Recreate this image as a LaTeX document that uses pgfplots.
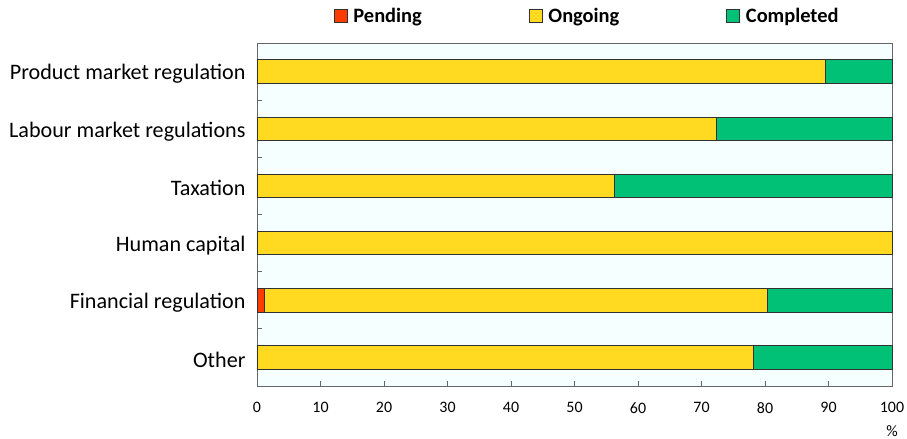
\documentclass[border=0pt]{standalone}
\usepackage{pgfplots}
\pgfplotsset{compat=1.18}
\usepackage{fontspec}
\setmainfont{Carlito}
\definecolor{pend}{RGB}{255,60,0}
\definecolor{ongo}{RGB}{255,218,32}
\definecolor{comp}{RGB}{0,193,118}
\definecolor{bgc}{RGB}{245,255,255}
\definecolor{edge}{RGB}{50,50,50}
\begin{document}
\begin{tikzpicture}
\useasboundingbox (-257bp,-53bp) rectangle (650bp,386bp);
\begin{axis}[
  at={(0,0)}, anchor=south west,
  scale only axis, width=635bp, height=343bp,
  xbar stacked, bar width=23.5bp,
  xmin=0, xmax=100, ymin=-0.5, ymax=5.5, y dir=reverse,
  xtick={0,10,...,100},
  ytick={0,1,2,3,4,5},
  yticklabels={Product market regulation,Labour market regulations,Taxation,Human capital,Financial regulation,Other},
  minor ytick={0.5,1.5,2.5,3.5,4.5},
  major tick length=5bp, minor tick length=5bp,
  ytick style={draw=none}, minor y tick style={draw=black!60, line width=0.8bp},
  x tick style={draw=black!60, line width=0.8bp},
  tick align=inside, xtick pos=bottom, ytick pos=left,
  axis line style={draw=black!60, line width=0.9bp},
  axis background/.style={fill=bgc},
  /pgf/number format/assume math mode=true,
  xticklabel style={font=\fontsize{16}{18}\selectfont, yshift=-13bp},
  yticklabel style={font=\fontsize{22.2}{26}\selectfont, xshift=-8bp, yshift=-2.5bp},
  legend columns=3,
  legend style={at={(rel axis cs:0.520,1.079)}, anchor=center, draw=none, fill=none,
    font=\bfseries\fontsize{20.5}{24}\selectfont,
    nodes={inner sep=2bp},
    /tikz/every odd column/.append style={column sep=4bp},
    /tikz/every even column/.append style={column sep=105bp}},
  legend image code/.code={\draw[#1, draw=edge, line width=0.6bp] (0bp,-6.5bp) rectangle (13bp,6.5bp);},
  clip=false,
]
\addplot[fill=pend, draw=edge, line width=0.7bp] coordinates {(0,0) (0,1) (0,2) (0,3) (1.2,4) (0,5)};
\addplot[fill=ongo, draw=edge, line width=0.7bp] coordinates {(89.5,0) (72.3,1) (56.3,2) (100,3) (79.1,4) (78.1,5)};
\addplot[fill=comp, draw=edge, line width=0.7bp] coordinates {(10.5,0) (27.7,1) (43.7,2) (0,3) (19.7,4) (21.9,5)};
\legend{Pending,Ongoing,Completed}
\node[font=\fontsize{16}{18}\selectfont, inner sep=0pt] at (rel axis cs:1,0) [yshift=-45bp] {\%};
\end{axis}
\end{tikzpicture}
\end{document}
